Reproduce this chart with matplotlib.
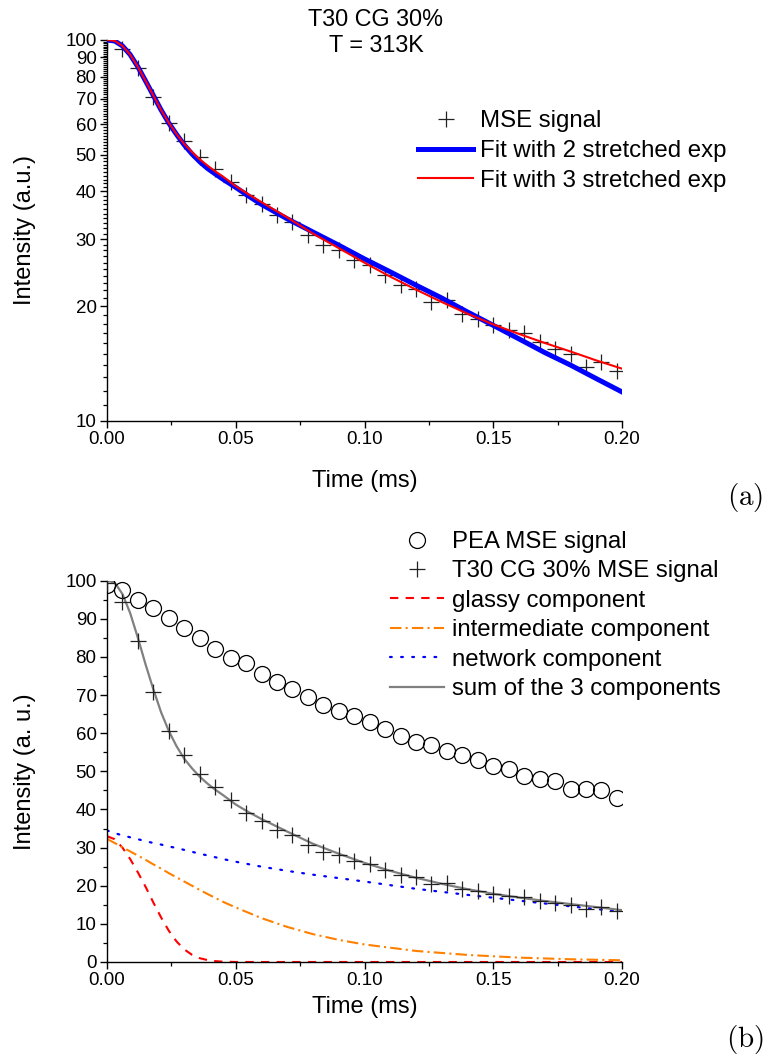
import numpy as np
import matplotlib
matplotlib.use('Agg')
import matplotlib.pyplot as plt
from matplotlib.ticker import FixedLocator, MultipleLocator, NullFormatter, FormatStrFormatter

plt.rcParams['font.family'] = ['Liberation Sans', 'DejaVu Sans']
plt.rcParams['mathtext.fontset'] = 'cm'


# Data
# *************************
t_pts = [0.000, 0.006, 0.012, 0.018, 0.024, 0.030, 0.036, 0.042, 0.048, 0.054,
         0.060, 0.066, 0.072, 0.078, 0.084, 0.090, 0.096, 0.102, 0.108, 0.114,
         0.120, 0.126, 0.132, 0.138, 0.144, 0.150, 0.156, 0.162, 0.168, 0.174,
         0.180, 0.186, 0.192, 0.198]

# T30 CG 30% MSE signal (crosses)
mse_cg = [99.5, 94.5, 84.2, 70.9, 60.6, 54.3, 49.3, 45.8, 42.4, 39.1,
          37.0, 34.6, 33.3, 30.7, 28.9, 28.0, 26.4, 25.6, 24.1, 22.7,
          22.2, 20.5, 20.7, 19.1, 18.5, 17.8, 17.3, 17.0, 16.1, 15.4,
          15.0, 13.8, 14.3, 13.5]

# PEA MSE signal (circles)
mse_pea = [99.0, 97.6, 94.9, 92.9, 90.1, 87.5, 84.9, 82.1, 79.6, 78.3,
           75.4, 73.5, 71.7, 69.4, 67.4, 65.8, 64.5, 63.0, 61.0, 59.2,
           57.7, 57.0, 55.3, 54.4, 52.9, 51.4, 50.6, 48.7, 48.1, 47.5,
           45.5, 45.5, 45.1, 43.0]

t_fit = [0.000, 0.003, 0.006, 0.009, 0.012, 0.015, 0.018, 0.021, 0.024, 0.027,
         0.030, 0.033, 0.036, 0.039, 0.042, 0.045, 0.050, 0.055, 0.060, 0.070,
         0.080, 0.090, 0.100, 0.110, 0.120, 0.130, 0.140, 0.150, 0.160, 0.170,
         0.180, 0.190, 0.200]

fit_2exp = [100, 99.4, 96.5, 91.5, 85.0, 78.0, 71.5, 65.5, 60.5, 56.5,
            53.0, 50.2, 47.9, 46.0, 44.5, 43.1, 41.0, 38.9, 37.0, 33.9,
            31.3, 28.9, 26.6, 24.6, 22.7, 21.0, 19.3, 17.8, 16.4, 15.1,
            14.0, 12.9, 11.9]

fit_3exp = [100, 99.5, 96.5, 91.5, 85.0, 78.0, 71.5, 65.5, 60.6, 56.6,
            53.3, 50.8, 48.6, 46.8, 45.2, 43.8, 41.3, 39.3, 37.5, 34.2,
            31.0, 28.4, 26.0, 23.9, 22.1, 20.5, 19.1, 17.9, 16.9, 16.0,
            15.2, 14.4, 13.7]

sum_3 = [100, 99.5, 96.5, 91.5, 85.0, 78.0, 71.5, 65.5, 60.6, 56.6,
         53.3, 50.8, 48.6, 46.8, 45.2, 43.8, 41.3, 39.3, 37.5, 34.2,
         31.0, 28.4, 26.0, 23.9, 22.1, 20.5, 19.1, 17.9, 16.9, 16.0,
         15.2, 14.4, 13.6]

t_comp = [0.000, 0.003, 0.006, 0.009, 0.012, 0.015, 0.018, 0.021, 0.024, 0.027,
          0.030, 0.033, 0.036, 0.040, 0.045, 0.050, 0.060, 0.070, 0.080, 0.090,
          0.100, 0.120, 0.140, 0.160, 0.180, 0.200]

glassy = [33.0, 32.2, 30.0, 27.0, 23.5, 19.7, 15.6, 11.7, 8.2, 5.4,
          3.3, 1.9, 1.0, 0.35, 0.08, 0.01, 0, 0, 0, 0,
          0, 0, 0, 0, 0, 0]

intermediate = [32.3, 31.2, 30.1, 29.0, 27.9, 26.8, 25.6, 24.5, 23.3, 22.2,
                21.1, 20.0, 18.9, 17.5, 15.8, 14.3, 11.5, 9.2, 7.3, 5.8,
                4.6, 2.9, 1.85, 1.15, 0.72, 0.45]

network = [34.5, 33.8, 33.2, 32.7, 32.2, 31.7, 31.2, 30.8, 30.3, 29.9,
           29.4, 28.9, 28.4, 27.8, 27.0, 26.3, 25.0, 23.9, 22.9, 22.0,
           21.1, 19.2, 17.6, 16.1, 14.6, 13.2]

log_major = [10, 20, 30, 40, 50, 60, 70, 80, 90, 100]
log_minor = [v for v in range(11, 100) if v % 10 != 0]


# Figure and axes
# ***************
W, H = 765, 1059
fig = plt.figure(figsize=(W / 100, H / 100), dpi=100)
ax1 = fig.add_axes([107 / W, 1 - 420.7 / H, 515 / W, 380.7 / H])
ax2 = fig.add_axes([107 / W, 1 - 962 / H, 515 / W, 381.3 / H])

tick_fs = 13.5
label_fs = 17
leg_fs = 17.3

for ax in (ax1, ax2):
    for side in ('top', 'right'):
        ax.spines[side].set_visible(False)
    for side in ('left', 'bottom'):
        ax.spines[side].set_linewidth(1.0)
    ax.tick_params(which='major', direction='out', length=5, width=1.0,
                   labelsize=tick_fs, pad=2.5)
    ax.tick_params(which='minor', direction='out', length=2.8, width=0.9)
    ax.set_xlim(0, 0.2)
    ax.xaxis.set_major_locator(MultipleLocator(0.05))
    ax.xaxis.set_minor_locator(MultipleLocator(0.025))
    ax.xaxis.set_major_formatter(FormatStrFormatter('%.2f'))

ax1.set_xlabel('Time (ms)', fontsize=label_fs, labelpad=16)
ax2.set_xlabel('Time (ms)', fontsize=label_fs, labelpad=5)


# Panel (a)
# *********
ax1.set_yscale('log')
ax1.set_ylim(10, 100)
ax1.yaxis.set_major_locator(FixedLocator(log_major))
ax1.yaxis.set_minor_locator(FixedLocator(log_minor))
ax1.yaxis.set_major_formatter(FormatStrFormatter('%d'))
ax1.yaxis.set_minor_formatter(NullFormatter())

ax1.plot(t_pts, mse_cg, linestyle='none', marker='+', markersize=11,
         markeredgewidth=0.9, color='#222222', label='MSE signal', zorder=2)
ax1.plot(t_fit, fit_2exp, color='#0000ff', linewidth=3.6,
         label='Fit with 2 stretched exp', zorder=3)
ax1.plot(t_fit, fit_3exp, color='#ff0000', linewidth=1.5,
         label='Fit with 3 stretched exp', zorder=4)
ax1.set_ylabel('Intensity (a.u.)', fontsize=label_fs, labelpad=21)

ax1.legend(loc='upper left', bbox_to_anchor=(418 / W, 1 - 110 / H),
           bbox_transform=fig.transFigure, frameon=False, fontsize=leg_fs,
           borderpad=0, borderaxespad=0, handlelength=2.3, handletextpad=0.3,
           labelspacing=0.33, numpoints=1)

fig.text(375 / W, 1 - 20 / H, 'T30 CG 30%', ha='center', va='center', fontsize=16.8)
fig.text(376 / W, 1 - 46 / H, 'T = 313K', ha='center', va='center', fontsize=16.8)
fig.text(745 / W, 1 - 497 / H, r'$\mathrm{(a)}$', ha='center', va='center', fontsize=21)


# Panel (b)
# *********
ax2.set_ylim(0, 100)
ax2.yaxis.set_major_locator(MultipleLocator(10))
ax2.yaxis.set_minor_locator(MultipleLocator(5))

ax2.plot(t_pts, mse_pea, linestyle='none', marker='o', markersize=11.5,
         markerfacecolor='none', markeredgecolor='black', markeredgewidth=0.9,
         label='PEA MSE signal', zorder=3)
ax2.plot(t_pts, mse_cg, linestyle='none', marker='+', markersize=11,
         markeredgewidth=0.9, color='#222222', label='T30 CG 30% MSE signal', zorder=3)
ax2.plot(t_comp, glassy, color='#ff0000', linewidth=1.5, linestyle=(0, (4, 3.5)),
         label='glassy component', zorder=2)
ax2.plot(t_comp, intermediate, color='#ff8000', linewidth=1.5,
         linestyle=(0, (5.5, 2, 1, 2)), label='intermediate component', zorder=2)
ax2.plot(t_comp, network, color='#0000ff', linewidth=1.6, linestyle=(0, (0.8, 4.2)),
         dash_capstyle='round', label='network component', zorder=2)
ax2.plot(t_fit, sum_3, color='#808080', linewidth=1.6,
         label='sum of the 3 components', zorder=2)
ax2.set_ylabel('Intensity (a. u.)', fontsize=label_fs, labelpad=21)

ax2.legend(loc='upper left', bbox_to_anchor=(390 / W, 1 - 531 / H),
           bbox_transform=fig.transFigure, frameon=False, fontsize=leg_fs,
           borderpad=0, borderaxespad=0, handlelength=2.25, handletextpad=0.32,
           labelspacing=0.31, numpoints=1)

fig.text(745 / W, 1 - 1040 / H, r'$\mathrm{(b)}$', ha='center', va='center', fontsize=21)

fig.savefig('out.png', dpi=100)
